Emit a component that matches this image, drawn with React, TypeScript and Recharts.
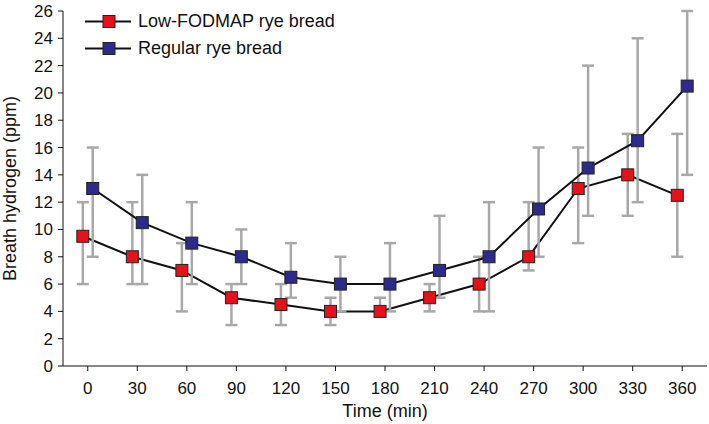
import { LineChart, Line, XAxis, YAxis, ErrorBar } from "recharts";

const times = [0, 30, 60, 90, 120, 150, 180, 210, 240, 270, 300, 330, 360];
const yTicks = [0, 2, 4, 6, 8, 10, 12, 14, 16, 18, 20, 22, 24, 26];

// Low-FODMAP rye bread
const lowMean = [9.5, 8, 7, 5, 4.5, 4, 4, 5, 6, 8, 13, 14, 12.5];
const lowMin = [6, 6, 4, 3, 3, 3, 4, 4, 4, 7, 9, 11, 8];
const lowMax = [12, 12, 9, 6, 6, 5, 5, 6, 8, 12, 16, 17, 17];

// Regular rye bread
const regMean = [13, 10.5, 9, 8, 6.5, 6, 6, 7, 8, 11.5, 14.5, 16.5, 20.5];
const regMin = [8, 6, 6, 6, 5, 4, 4, 5, 4, 8, 11, 12, 14];
const regMax = [16, 14, 12, 10, 9, 8, 9, 11, 12, 16, 22, 24, 26];

// points are dodged a little left/right of each time so error bars don't overlap
const DODGE = 3;

const build = (mean: number[], lo: number[], hi: number[], shift: number) =>
  times.map((t, i) => ({
    t: t + shift,
    v: mean[i],
    err: [mean[i] - lo[i], hi[i] - mean[i]],
  }));

const lowData = build(lowMean, lowMin, lowMax, -DODGE);
const regData = build(regMean, regMin, regMax, DODGE);

const series = [
  { name: "Low-FODMAP rye bread", color: "#e5111b", data: lowData },
  { name: "Regular rye bread", color: "#2d2a8b", data: regData },
];

const FONT = "'Liberation Sans', Arial, sans-serif";

const Square = (color: string) => (props: any) => {
  const { cx, cy, index } = props;
  if (cx == null || cy == null) return null;
  return <rect key={index} x={cx - 6} y={cy - 6} width={12} height={12} fill={color} stroke="#222" strokeWidth={1} />;
};

const LegendBox = () => (
  <div style={{ position: "absolute", left: 82, top: 8, fontFamily: FONT, fontSize: 18, color: "#111" }}>
    {series.map((s) => (
      <div key={s.name} style={{ display: "flex", alignItems: "center", height: 27 }}>
        <svg width={56} height={27}>
          <line x1={3} y1={13.5} x2={49} y2={13.5} stroke="#111" strokeWidth={2} />
          <rect x={21} y={7.5} width={12} height={12} fill={s.color} stroke="#222" strokeWidth={1} />
        </svg>
        <span>{s.name}</span>
      </div>
    ))}
  </div>
);

export default function App() {
  return (
    <div style={{ position: "absolute", left: 0, top: 0, width: 709, height: 424, background: "#fff" }}>
      <LineChart width={709} height={424} margin={{ top: 11, right: 2, bottom: 0, left: 0 }}>
        <XAxis
          dataKey="t"
          type="number"
          domain={[-15, 375]}
          ticks={times}
          allowDataOverflow
          height={58}
          tickSize={5}
          tickMargin={11}
          stroke="#111"
          tick={{ fill: "#111", fontSize: 17, fontFamily: FONT }}
          label={{ value: "Time (min)", position: "insideBottom", offset: 7, fill: "#111", fontSize: 18, fontFamily: FONT }}
        />
        <YAxis
          type="number"
          domain={[0, 26]}
          ticks={yTicks}
          interval={0}
          width={63}
          tickSize={5}
          tickMargin={5}
          stroke="#111"
          tick={{ fill: "#111", fontSize: 17, fontFamily: FONT }}
          label={{
            value: "Breath hydrogen (ppm)",
            angle: -90,
            position: "insideLeft",
            offset: 10,
            fill: "#111",
            fontSize: 18,
            fontFamily: FONT,
            style: { textAnchor: "middle" },
          }}
        />
        {series.map((s) => (
          <Line
            key={s.name}
            data={s.data}
            dataKey="v"
            name={s.name}
            stroke="#111"
            strokeWidth={2}
            dot={Square(s.color)}
            activeDot={false}
            isAnimationActive={false}
          >
            <ErrorBar dataKey="err" direction="y" width={6} stroke="#a8a8a8" strokeWidth={2.5} />
          </Line>
        ))}
      </LineChart>
      <LegendBox />
    </div>
  );
}
